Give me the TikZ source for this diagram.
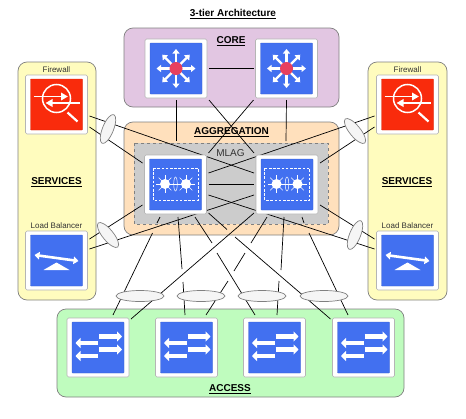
\documentclass[tikz,border=0pt]{standalone}
\usepackage{fontspec}
\setmainfont{Liberation Sans}
\usetikzlibrary{arrows.meta,shapes.geometric}
\pgfdeclarelayer{front}\pgfsetlayers{main,front}
\definecolor{iconblue}{HTML}{4270F0}
\definecolor{iconred}{HTML}{F92B0C}
\definecolor{hub}{HTML}{E8405F}
\definecolor{framegrey}{HTML}{808080}
\definecolor{boxedge}{HTML}{B5B5B5}
\definecolor{purplezone}{HTML}{E2C6E2}
\definecolor{orangezone}{HTML}{FFE0BC}
\definecolor{yellowzone}{HTML}{FFFCBE}
\definecolor{greenzone}{HTML}{BFFCBE}
\definecolor{mlaggrey}{HTML}{CCCCCC}
\tikzset{
  zone/.style={draw=framegrey,line width=0.7pt,rounded corners=9pt},
  swbox/.style={draw=boxedge,fill=white,line width=0.6pt,rounded corners=1.5pt,minimum width=62pt,minimum height=59pt,inner sep=0pt,outer sep=2pt},
  link/.style={black,line width=0.7pt},
  lag/.style={draw=framegrey,fill=white!96!black,line width=0.7pt,ellipse,inner sep=0pt,minimum width=48pt,minimum height=11pt},
  lagtilt/.style={lag,minimum width=31pt,minimum height=11pt},
  heading/.style={font=\fontsize{10}{12}\selectfont\bfseries,inner sep=0pt},
  small/.style={font=\fontsize{8}{10}\selectfont,text=black!80,inner sep=0pt},
  plate/.style={line width=0.3pt,rounded corners=0.7pt}
}
\newcommand{\plate}[1]{\filldraw[plate,fill=#1,draw=#1!85!black] (-26,-25.5) rectangle (26,25.5);}
\newcommand{\routericon}{%
  \plate{iconblue}
  \foreach \a in {0,45,...,315}
    \draw[white,line width=2.2pt,-{Triangle[length=4.5pt,width=7pt]}] (0,0) -- (\a:19.5);
  \fill[hub] (0,0) circle (6.5);
}
\newcommand{\aggicon}{%
  \plate{iconblue}
  \draw[white,line width=0.9pt,dash pattern=on 2.6pt off 1.6pt] (-22.5,-16.5) rectangle (22.5,15.5);
  \draw[white,line width=0.5pt] (-10.5,-0.5) -- (10.5,-0.5);
  \draw[white,line width=0.5pt] (0,-0.5) ellipse (1.8 and 7);
  \foreach \a in {0,45,...,315}{
    \draw[white,line width=0.5pt] (-10.5,-0.5) -- ++(\a:9);
    \draw[white,line width=0.5pt] (10.5,-0.5) -- ++(\a:9);
  }
  \fill[white] (-10.5,-0.5) circle (5);
  \fill[white] (10.5,-0.5) circle (5);
}
\newcommand{\fwicon}{%
  \plate{iconred}
  \draw[white,line width=1.5pt] (0,-6) circle (14);
  \draw[white,line width=2.2pt] (11,8) -- (21,17);
  \draw[white,line width=1.8pt,-{Triangle[length=7pt,width=7.5pt]}] (-23,-8) -- (11.5,-8);
  \draw[white,line width=1.8pt,-{Triangle[length=7pt,width=7.5pt]}] (23,-1.5) -- (-11,-1.5);
}
\newcommand{\lbicon}{%
  \plate{iconblue}
  \draw[white,line width=2.6pt,{Triangle[length=5pt,width=7.5pt]}-{Triangle[length=5pt,width=7.5pt]}] (-22,-5.5) -- (22,0.5);
  \fill[white] (0,2) -- (13,9.5) -- (-13,9.5) -- cycle;
}
\newcommand{\accicon}{%
  \plate{iconblue}
  \foreach \y in {-11,2}
    \draw[white,line width=4.8pt,-{Triangle[length=5pt,width=10pt]}] (1,\y) -- (24,\y);
  \foreach \y in {-4.5,8.5}
    \draw[white,line width=4.8pt,-{Triangle[length=5pt,width=10pt]}] (0,\y) -- (-22.5,\y);
}
\newcommand{\swdevice}[4]{%
  \node[swbox] (#1) at (#2,#3) {};
  \begin{scope}[shift={(#1.center)}]#4\end{scope}%
}
\begin{document}
\begin{tikzpicture}[x=1pt,y=-1pt]
\useasboundingbox (0,0) rectangle (466,418);
% zones
\draw[zone,fill=purplezone] (124,28) rectangle (339,107);
\draw[zone,fill=orangezone] (124,122) rectangle (339,235);
\draw[zone,fill=yellowzone] (18,62) rectangle (96,300);
\draw[zone,fill=yellowzone] (368,62) rectangle (447,300);
\draw[zone,fill=greenzone] (57,309) rectangle (404,397);
\draw[draw=framegrey,fill=mlaggrey,line width=0.7pt,dashed] (134,143) rectangle (328,224);
% devices
\begin{pgfonlayer}{front}
\swdevice{cl}{176}{68.5}{\routericon}
\swdevice{cr}{286.5}{68.5}{\routericon}
\swdevice{al}{175.5}{184.5}{\aggicon}
\swdevice{ar}{287}{184.5}{\aggicon}
\swdevice{fl}{56.5}{104.5}{\fwicon}
\swdevice{ll}{56.5}{260.5}{\lbicon}
\swdevice{fr}{407.5}{104.5}{\fwicon}
\swdevice{lr}{407.5}{260.5}{\lbicon}
\swdevice{a1}{98}{347.5}{\accicon}
\swdevice{a2}{186.5}{347.5}{\accicon}
\swdevice{a3}{274.5}{347.5}{\accicon}
\swdevice{a4}{363.5}{347.5}{\accicon}
\end{pgfonlayer}
% free ends
\coordinate (v1) at (176,141);
\coordinate (v2) at (286,141);
% core links
\draw[link] (cl.east) -- (cr.west);
\draw[link] (cl.south) -- (v1);
\draw[link] (cr.south) -- (v2);
\draw[link] (cl.south east) -- (ar.north west);
\draw[link] (cr.south west) -- (al.north east);
% aggregation peer link
\draw[link] (al.east) -- (ar.west);
% services links
\draw[link] ([shift={(0,11.5)}]fl.east) -- ([shift={(0,-11.5)}]ar.west);
\draw[link] ([shift={(0,22.5)}]fl.east) -- ([shift={(0,-21.5)}]al.west);
\draw[link] ([shift={(0,-21.5)}]ll.east) -- ([shift={(0,20.5)}]al.west);
\draw[link] ([shift={(0,-11.5)}]ll.east) -- ([shift={(0,10.5)}]ar.west);
\draw[link] ([shift={(0,11.5)}]fr.west) -- ([shift={(0,-11.5)}]al.east);
\draw[link] ([shift={(0,22.5)}]fr.west) -- ([shift={(0,-21.5)}]ar.east);
\draw[link] ([shift={(0,-21.5)}]lr.west) -- ([shift={(0,20.5)}]ar.east);
\draw[link] ([shift={(0,-11.5)}]lr.west) -- ([shift={(0,10.5)}]al.east);
% access links (the gaps are in the picture)
\draw[link] ([shift={(15,-1)}]a1.north) -- (152.5,233) (157,223) -- (160,217);
\draw[link] ([shift={(0,3)}]a1.north east) -- ([shift={(0,-3)}]ar.south west);
\draw[link] ([shift={(-1.5,-1)}]a2.north) -- (183,282) (182,269) -- (178,217);
\draw[link] ([shift={(19.5,-1)}]a2.north) -- (228,281) (234,271) -- (245,253) (251,243) -- (267,217);
\draw[link] ([shift={(-19.5,-1)}]a3.north) -- (217,253) (212,243) -- (195,217);
\draw[link] ([shift={(0,3)}]a4.north west) -- (235,237) (227,229.5) -- ([shift={(0,-3)}]al.south east);
\draw[link] ([shift={(2.5,-1)}]a3.north) -- (279,281) (281,270) -- (284,217);
\draw[link] ([shift={(-15.5,-1)}]a4.north) -- (309,233) (304,223) -- (302,217);
% link aggregation marks
\node[lagtilt,rotate=68] (e1) at (108,129) {};
\node[lagtilt,rotate=-51] (e2) at (108,235) {};
\node[lagtilt,rotate=-51] (e3) at (355,131) {};
\node[lagtilt,rotate=68] (e4) at (355,235) {};
\node[lag] (b1) at (140,296) {};
\node[lag] (b2) at (201,296) {};
\node[lag] (b3) at (262,296) {};
\node[lag] (b4) at (324,296) {};
% texts
\node[heading] (title) at (233,13.8) {\underline{3-tier Architecture}};
\node[heading] (tcore) at (231,41) {\underline{CORE}};
\node[heading] (tagg) at (231.5,131.8) {\underline{AGGREGATION}};
\node[heading] (tacc) at (230,388.8) {\underline{ACCESS}};
\node[heading] (tsl) at (56.5,181.8) {\underline{SERVICES}};
\node[heading] (tsr) at (407,181.8) {\underline{SERVICES}};
\node[font=\fontsize{10}{12}\selectfont,text=black!80,inner sep=0pt] (tm) at (230.5,153.5) {MLAG};
\node[small] (tfl) at (56.5,70) {Firewall};
\node[small] (tfr) at (407.5,70) {Firewall};
\node[small] (tll) at (56.5,225.5) {Load Balancer};
\node[small] (tlr) at (407.5,225.5) {Load Balancer};
\end{tikzpicture}
\end{document}
